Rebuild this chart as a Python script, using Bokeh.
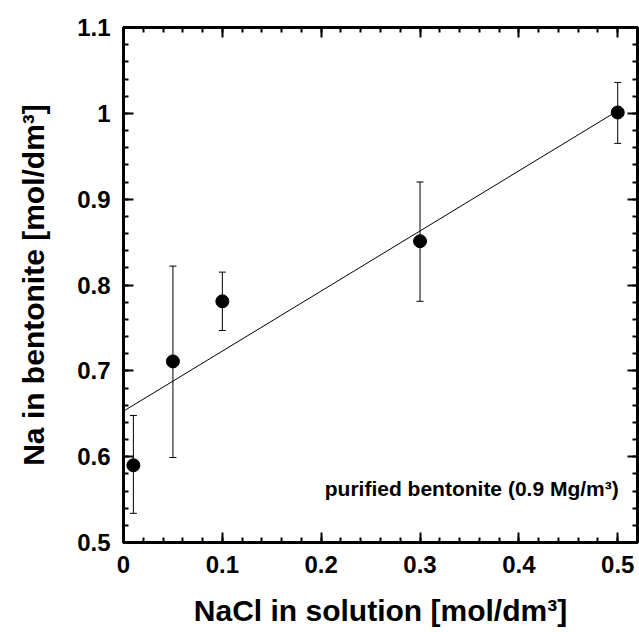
import numpy as np
from bokeh.plotting import figure
from bokeh.models import (ColumnDataSource, Whisker, TeeHead, LinearAxis, FixedTicker,
                          Label)
from bokeh.embed import file_html
from bokeh.resources import INLINE

# ---- data ----
nacl = [0.01, 0.05, 0.10, 0.30, 0.50]
na_bent = [0.590, 0.711, 0.781, 0.851, 1.001]
err_low = [0.534, 0.599, 0.747, 0.781, 0.965]
err_high = [0.648, 0.822, 0.815, 0.920, 1.036]

fit_x = [0.0, 0.5]
fit_y = [0.653, 1.003]

x_ticks = [0.0, 0.1, 0.2, 0.3, 0.4, 0.5]
x_tick_labels = ["0", "0.1", "0.2", "0.3", "0.4", "0.5"]
y_ticks = [0.5, 0.6, 0.7, 0.8, 0.9, 1.0, 1.1]
y_tick_labels = ["0.5", "0.6", "0.7", "0.8", "0.9", "1", "1.1"]

x_label = "NaCl in solution [mol/dm³]"
y_label = "Na in bentonite [mol/dm³]"
note = "purified bentonite (0.9 Mg/m³)"

FONT = "Liberation Sans"

p = figure(width=639, height=632, x_range=(0, 0.52), y_range=(0.5, 1.1),
           output_backend="svg", toolbar_location=None,
           min_border_left=123, min_border_right=2, min_border_top=27,
           min_border_bottom=90, x_axis_location=None, y_axis_location=None)
p.grid.visible = False
p.outline_line_color = "black"
p.outline_line_width = 3
p.background_fill_color = "white"
p.border_fill_color = "white"

x_minor = list(np.round(np.arange(0, 0.5201, 0.02), 4))
y_minor = list(np.round(np.arange(0.5, 1.1001, 0.02), 4))
xt = FixedTicker(ticks=x_ticks, minor_ticks=x_minor)
yt = FixedTicker(ticks=y_ticks, minor_ticks=y_minor)

def style(ax, labels):
    ax.axis_line_width = 3
    ax.axis_line_color = "black"
    ax.major_tick_in = 10
    ax.major_tick_out = 0
    ax.minor_tick_in = 5
    ax.minor_tick_out = 0
    ax.major_tick_line_width = 2
    ax.minor_tick_line_width = 2
    ax.major_tick_line_color = "black"
    ax.minor_tick_line_color = "black"
    ax.major_label_text_color = "black"
    ax.axis_label_text_color = "black"
    if not labels:
        ax.major_label_text_font_size = "0px"
        ax.major_label_standoff = 0

xb = LinearAxis(ticker=xt, axis_label=x_label)
style(xb, True)
xb.major_label_overrides = dict(zip(x_ticks, x_tick_labels))
xb.major_label_text_font = FONT
xb.major_label_text_font_style = "bold"
xb.major_label_text_font_size = "24px"
xb.major_label_standoff = 13
xb.axis_label_text_font = FONT
xb.axis_label_text_font_style = "bold"
xb.axis_label_text_font_size = "30px"
xb.axis_label_standoff = 18
p.add_layout(xb, "below")

yl = LinearAxis(ticker=yt, axis_label=y_label)
style(yl, True)
yl.major_label_overrides = dict(zip(y_ticks, y_tick_labels))
yl.major_label_text_font = FONT
yl.major_label_text_font_style = "bold"
yl.major_label_text_font_size = "24px"
yl.major_label_standoff = 13
yl.axis_label_text_font = FONT
yl.axis_label_text_font_style = "bold"
yl.axis_label_text_font_size = "30px"
yl.axis_label_standoff = 24
p.add_layout(yl, "left")

xa = LinearAxis(ticker=xt)
style(xa, False)
xa.major_label_overrides = {t: "" for t in x_ticks}
p.add_layout(xa, "above")

yr = LinearAxis(ticker=yt)
style(yr, False)
yr.major_label_overrides = {t: "" for t in y_ticks}
p.add_layout(yr, "right")

src = ColumnDataSource(dict(x=nacl, y=na_bent, lower=err_low, upper=err_high))

p.line(fit_x, fit_y, line_color="black", line_width=1)

wh = Whisker(source=src, base="x", lower="lower", upper="upper",
             line_color="black", line_width=1,
             upper_head=TeeHead(size=7, line_color="black", line_width=1),
             lower_head=TeeHead(size=7, line_color="black", line_width=1))
p.add_layout(wh)

p.scatter("x", "y", source=src, size=13, fill_color="black", line_color="black")

p.add_layout(Label(x=0.501, y=0.563, text=note, text_align="right",
                   text_baseline="middle", text_font=FONT, text_font_style="bold",
                   text_font_size="21px", text_color="black"))

open("out.html", "w").write(file_html(p, INLINE))
